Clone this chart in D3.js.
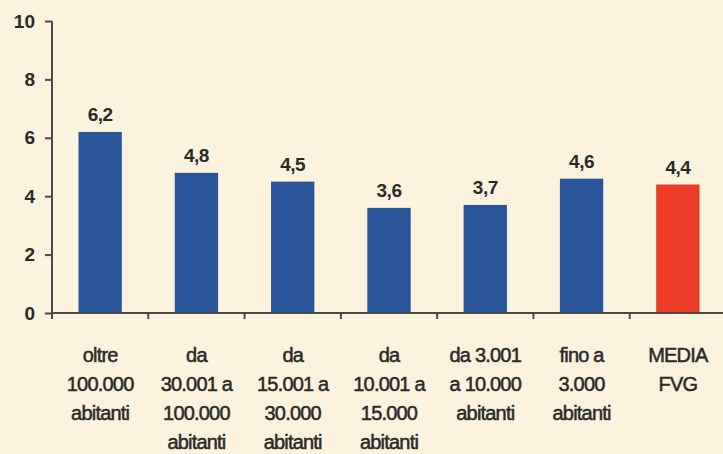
<!DOCTYPE html>
<html><head><meta charset="utf-8">
<script src="https://cdn.jsdelivr.net/npm/d3@7"></script>
<style>
html,body{margin:0;padding:0;background:#FBF3DD;}
svg{display:block;}
text{font-family:"Liberation Sans",Arial,sans-serif;fill:#2a2a2a;}
</style></head>
<body><svg id="c" width="723" height="454"></svg>
<script>
const categories = [
  ["oltre","100.000","abitanti"],
  ["da","30.001 a","100.000","abitanti"],
  ["da","15.001 a","30.000","abitanti"],
  ["da","10.001 a","15.000","abitanti"],
  ["da 3.001","a 10.000","abitanti"],
  ["fino a","3.000","abitanti"],
  ["MEDIA","FVG"]
];
const values = [6.2, 4.8, 4.5, 3.6, 3.7, 4.6, 4.4];
const valueLabels = ["6,2","4,8","4,5","3,6","3,7","4,6","4,4"];
const yTicks = [0, 2, 4, 6, 8, 10];
const colors = ["#2B559B","#2B559B","#2B559B","#2B559B","#2B559B","#2B559B","#EC3B26"];

const svg = d3.select("#c");
const x = d3.scaleBand().domain(d3.range(values.length)).range([52, 726]).paddingInner(0.55).paddingOuter(0.275);
const y = d3.scaleLinear().domain([0, 10]).range([313, 21]);
const step = x.step();

// bars
svg.selectAll("rect.bar").data(values).enter().append("rect")
  .attr("class","bar")
  .attr("x",(d,i)=>x(i)).attr("width",x.bandwidth())
  .attr("y",d=>y(d)).attr("height",d=>y(0)-y(d))
  .attr("fill",(d,i)=>colors[i]);

// value labels
svg.selectAll("text.val").data(values).enter().append("text")
  .attr("class","val")
  .attr("x",(d,i)=>x(i)+x.bandwidth()/2)
  .attr("y",d=>y(d)-11)
  .attr("text-anchor","middle")
  .style("font-size","19px")
  .style("font-weight","bold")
  .style("letter-spacing","-0.5px")
  .text((d,i)=>valueLabels[i]);

// y axis
const yAxis = d3.axisLeft(y).tickValues(yTicks).tickSize(7).tickPadding(10).tickFormat(d3.format("d"));
const ga = svg.append("g").attr("transform","translate(52,0)").call(yAxis);
ga.select(".domain").remove();
ga.selectAll(".tick line").attr("stroke","#4a4a4a").attr("stroke-width",2);
ga.selectAll(".tick text").style("font-size","19px").style("font-weight","bold").attr("fill","#2a2a2a").style("font-family","'Liberation Sans',Arial,sans-serif");
svg.append("line").attr("x1",52).attr("x2",52).attr("y1",y(10)).attr("y2",y(0)+6)
  .attr("stroke","#4a4a4a").attr("stroke-width",2);

// x axis
svg.append("line").attr("x1",52).attr("x2",723).attr("y1",y(0)).attr("y2",y(0))
  .attr("stroke","#4a4a4a").attr("stroke-width",2);
svg.selectAll("line.xt").data(d3.range(1, values.length)).enter().append("line")
  .attr("class","xt")
  .attr("x1",i=>x(i)-x.paddingInner()*step/2).attr("x2",i=>x(i)-x.paddingInner()*step/2)
  .attr("y1",y(0)).attr("y2",y(0)+6)
  .attr("stroke","#4a4a4a").attr("stroke-width",2);

// category labels
categories.forEach((lines,i)=>{
  const t = svg.append("text")
    .attr("text-anchor","middle")
    .style("font-size","20px")
    .style("letter-spacing","-0.8px")
    .attr("stroke","#2a2a2a").attr("stroke-width",0.5);
  lines.forEach((ln,j)=>{
    t.append("tspan").attr("x",x(i)+x.bandwidth()/2).attr("y",362+j*29).text(ln);
  });
});
</script></body></html>
